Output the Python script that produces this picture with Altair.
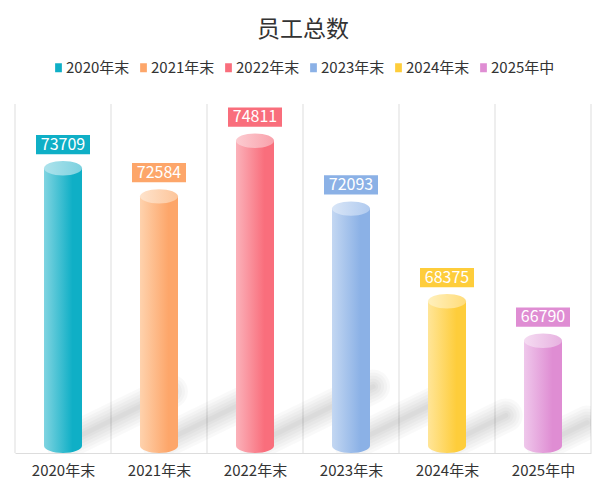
import altair as alt
import pandas as pd

categories = ["2020年末", "2021年末", "2022年末", "2023年末", "2024年末", "2025年中"]
values = [73709, 72584, 74811, 72093, 68375, 66790]
dark_colors = ["#0fafc6", "#fda66a", "#f96e7c", "#8bb1e6", "#fecd3b", "#df8dd3"]
light_colors = ["#80d4e1", "#fed2ad", "#fbb2ba", "#c3d7f2", "#ffe598", "#efc7eb"]
cap_left = ["#aee3ec", "#fee3cc", "#fcccd1", "#d9e6f7", "#fff0bd", "#f5dcf2"]
cap_right = ["#7bd1df", "#fdc59a", "#f9a1ab", "#b0caef", "#ffdc7a", "#e7b1e0"]

Y_MIN, Y_MAX = 62000, 76000
W, H = 576, 349
BAR_W = 38
CAP_H = 14.4
FONT = "Noto Sans CJK SC"
N = len(categories)

df = pd.DataFrame({"idx": list(range(N)), "category": categories, "value": values})
df["xc"] = df["idx"] + 0.5
df["base"] = Y_MIN
edges = pd.DataFrame({"edge": list(range(N + 1))})

x_scale = alt.Scale(domain=[0, N], nice=False, zero=False, padding=0)
label_expr = "[" + ",".join("'" + c + "'" for c in categories) + "][floor(datum.value)]"
x_axis = alt.Axis(values=[i + 0.5 for i in range(N)], labelExpr=label_expr,
                  grid=False, ticks=False, domainColor="#dddddd",
                  labelFontSize=15, labelFont=FONT, labelColor="#333333",
                  labelPadding=10, title=None)
x_enc = alt.X("xc:Q", scale=x_scale, axis=x_axis)
y_scale = alt.Scale(domain=[Y_MIN, Y_MAX], nice=False, zero=False)
y_enc = alt.Y("value:Q", scale=y_scale, axis=None)

base = alt.Chart(df)
layers = []

# vertical separators at category boundaries
layers.append(alt.Chart(edges).mark_rule(color="#dddddd", strokeWidth=1).encode(
    x=alt.X("edge:Q", scale=x_scale, axis=x_axis)))

# soft shadows cast to the right of each cylinder
px_per_unit = H / (Y_MAX - Y_MIN)
shadow = base.transform_calculate(
    hpx=f"(datum.value - {Y_MIN}) * {px_per_unit}",
).transform_calculate(
    ex=f"datum.xc + 0.37 * datum.hpx / {W / N}",
    sy=f"{Y_MIN} + 9 / {px_per_unit}",
).transform_calculate(
    ey=f"datum.sy + 0.18 * (datum.value - {Y_MIN})",
)
for sw in (34, 28, 22, 16, 10, 5):
    layers.append(shadow.mark_rule(color="#000000", opacity=0.022, strokeWidth=sw,
                                   strokeCap="round", clip=True).encode(
        x=alt.X("xc:Q", scale=x_scale, axis=x_axis), x2="ex:Q",
        y=alt.Y("sy:Q", scale=y_scale, axis=None), y2="ey:Q"))

ellipse = "M -1 0 A 1 0.38 0 1 1 1 0 A 1 0.38 0 1 1 -1 0 Z"
for i, cat in enumerate(categories):
    body_grad = alt.Gradient(
        gradient="linear", x1=0, x2=1, y1=0, y2=0,
        stops=[alt.GradientStop(color=light_colors[i], offset=0),
               alt.GradientStop(color=dark_colors[i], offset=0.75),
               alt.GradientStop(color=dark_colors[i], offset=1)])
    cap_grad = alt.Gradient(
        gradient="linear", x1=0, x2=1, y1=0, y2=0,
        stops=[alt.GradientStop(color=cap_left[i], offset=0),
               alt.GradientStop(color=cap_right[i], offset=1)])
    sub = base.transform_filter(alt.datum.category == cat)
    layers.append(sub.mark_bar(width=BAR_W, color=body_grad, yOffset=CAP_H / 2,
                               y2Offset=-CAP_H / 2).encode(
        x=x_enc, y=y_enc, y2=alt.Y2("base:Q")))
    layers.append(sub.mark_point(shape=ellipse, size=BAR_W ** 2, filled=True, opacity=1,
                                 color=body_grad, strokeWidth=0, yOffset=-CAP_H / 2).encode(
        x=x_enc, y=alt.Y("base:Q", scale=y_scale, axis=None)))
    layers.append(sub.mark_point(shape=ellipse, size=BAR_W ** 2, filled=True, opacity=1,
                                 color=cap_grad, strokeWidth=0, yOffset=CAP_H / 2).encode(
        x=x_enc, y=y_enc))

box_path = "M -1 -0.355 H 1 V 0.355 H -1 Z"
layers.append(base.mark_point(shape=box_path, size=54 ** 2, filled=True, opacity=1,
                              strokeWidth=0, yOffset=-16.5).encode(
    x=x_enc, y=y_enc,
    color=alt.Color("category:N", scale=alt.Scale(domain=categories, range=dark_colors),
                    legend=alt.Legend(
                        orient="none", legendX=36, legendY=-44, direction="horizontal",
                        columns=6, title=None,
                        symbolType="M -0.75 -1 H 0.75 V 1 H -0.75 Z", symbolSize=81,
                        symbolStrokeWidth=0, symbolOpacity=1,
                        labelFontSize=15, labelFont=FONT, labelColor="#333333",
                        labelOffset=0, columnPadding=6)),
))
layers.append(base.mark_text(color="white", fontSize=16, font=FONT, baseline="middle",
                             yOffset=-16.5).encode(
    x=x_enc, y=y_enc, text=alt.Text("value:Q", format="d")))

chart = alt.layer(*layers).properties(
    width=W, height=H,
    title=alt.Title("员工总数", fontSize=23, font=FONT, fontWeight="normal",
                    color="#333333", anchor="middle", offset=18),
    autosize=alt.AutoSizeParams(type="none"),
    padding={"left": 7, "top": 96, "right": 7, "bottom": 30},
).configure_view(strokeWidth=0)

chart.save("out.html", embed_options={"renderer": "svg", "actions": False})
